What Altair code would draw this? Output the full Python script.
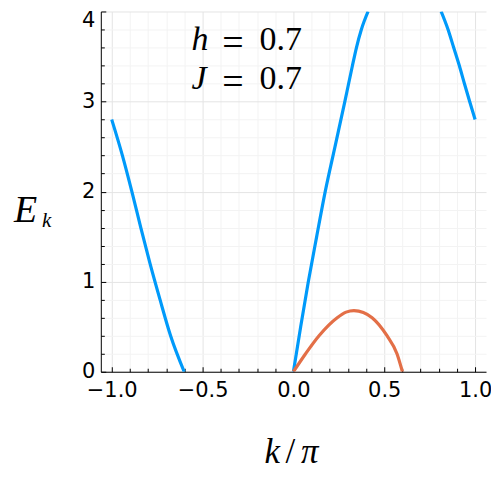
import altair as alt
import pandas as pd

# ---- values ----
BLUE_LEFT_X = [-1.0, -0.941, -0.889, -0.840, -0.789, -0.734, -0.676, -0.601]
BLUE_LEFT_Y = [2.8, 2.4, 2.0, 1.6, 1.2, 0.8, 0.4, 0.0]
BLUE_MID_X = [0.0, 0.040, 0.082, 0.128, 0.175, 0.229, 0.283, 0.304, 0.325, 0.347, 0.374, 0.411]
BLUE_MID_Y = [0.0, 0.5, 1.0, 1.5, 2.0, 2.5, 3.0, 3.2, 3.4, 3.6, 3.8, 4.0]
BLUE_RIGHT_X = [0.813, 0.851, 0.882, 0.913, 0.941, 0.970, 1.0]
BLUE_RIGHT_Y = [4.0, 3.8, 3.6, 3.4, 3.2, 3.0, 2.8]
ORANGE_X = [0.0, 0.067, 0.141, 0.241, 0.290, 0.333, 0.385, 0.433, 0.515, 0.570, 0.600]
ORANGE_Y = [0.0, 0.2, 0.4, 0.6, 0.662, 0.679, 0.658, 0.6, 0.4, 0.2, 0.0]

H_VAL = 0.7
J_VAL = 0.7

X_TICKS = [-1.0, -0.9, -0.8, -0.7, -0.6, -0.5, -0.4, -0.3, -0.2, -0.1, 0.0,
           0.1, 0.2, 0.3, 0.4, 0.5, 0.6, 0.7, 0.8, 0.9, 1.0]
Y_TICKS = [0.0, 0.2, 0.4, 0.6, 0.8, 1.0, 1.2, 1.4, 1.6, 1.8, 2.0,
           2.2, 2.4, 2.6, 2.8, 3.0, 3.2, 3.4, 3.6, 3.8, 4.0]
X_DOMAIN = [-1.06, 1.06]
Y_DOMAIN = [0, 4]

rows = []
for seg, xs_, ys_ in [("bl", BLUE_LEFT_X, BLUE_LEFT_Y),
                      ("bm", BLUE_MID_X, BLUE_MID_Y),
                      ("br", BLUE_RIGHT_X, BLUE_RIGHT_Y)]:
    for a, b in zip(xs_, ys_):
        rows.append({"x": a, "y": b, "series": "blue", "seg": seg})
for a, b in zip(ORANGE_X, ORANGE_Y):
    rows.append({"x": a, "y": b, "series": "orange", "seg": "o"})
df = pd.DataFrame(rows)

W, H = 386, 361
XMAJ = "abs(datum.value*2 - round(datum.value*2)) < 1e-6"
YMAJ = "abs(datum.value - round(datum.value)) < 1e-6"
YTOP = "datum.value > 3.99"

xs = alt.Scale(domain=X_DOMAIN, nice=False, zero=False)
ys = alt.Scale(domain=Y_DOMAIN, nice=False, zero=False)

main_x = alt.Axis(values=X_TICKS, labelExpr=f"({XMAJ}) ? format(datum.value, '.1f') : ''",
                  tickSize=0, grid=True,
                  gridColor={"condition": {"test": XMAJ, "value": "#e4e4e4"}, "value": "#f3f3f3"},
                  gridWidth=1, domainColor="black", domainWidth=1,
                  labelFont="DejaVu Sans", labelFontSize=21, labelColor="black",
                  labelPadding=8, labelOverlap=False, labelFlush=False, title=None)
main_y = alt.Axis(values=Y_TICKS, labelExpr=f"({YMAJ}) ? format(datum.value, '.0f') : ''",
                  tickSize=0, grid=True,
                  gridColor={"condition": {"test": YMAJ, "value": "#e4e4e4"}, "value": "#f3f3f3"},
                  gridWidth=1, domainColor="black", domainWidth=1,
                  labelFont="DejaVu Sans", labelFontSize=21, labelColor="black",
                  labelBaseline={"condition": {"test": YTOP, "value": "top"}, "value": "middle"},
                  labelOffset={"condition": {"test": YTOP, "value": -2}, "value": 0},
                  labelPadding=6, labelOverlap=False, labelFlush=False, title=None)
tick_x = alt.Axis(orient="top", offset=-H, values=X_TICKS, labels=False, domain=False, grid=False,
                  tickSize={"condition": {"test": XMAJ, "value": 5}, "value": 3.5},
                  tickColor="black", tickWidth=1, title=None)
tick_y = alt.Axis(orient="right", offset=-W, values=Y_TICKS, labels=False, domain=False, grid=False,
                  tickSize={"condition": {"test": YMAJ, "value": 5}, "value": 3.5},
                  tickColor="black", tickWidth=1, title=None)

blue = alt.Chart(df).transform_filter(alt.datum.series == "blue").mark_line(
    color="#009AFA", strokeWidth=3.2, clip=True, interpolate="monotone"
).encode(
    x=alt.X("x:Q", scale=xs, axis=main_x),
    y=alt.Y("y:Q", scale=ys, axis=main_y),
    detail="seg:N",
)
orange = alt.Chart(df).transform_filter(alt.datum.series == "orange").mark_line(
    color="#E36F47", strokeWidth=3.2, clip=True, interpolate="monotone"
).encode(
    x=alt.X("x:Q", scale=xs, axis=tick_x),
    y=alt.Y("y:Q", scale=ys, axis=tick_y),
)

one = pd.DataFrame({"t": [0]})


def txt(s, px, py, size, italic=False, align="left"):
    kw = dict(text=s, font="Liberation Serif", fontSize=size, align=align,
              baseline="alphabetic", color="black")
    if italic:
        kw["fontStyle"] = "italic"
    return alt.Chart(one).mark_text(**kw).encode(x=alt.value(px), y=alt.value(py))


texts = [
    # y title E_k
    txt("E", -87, 210.7, 38, italic=True),
    txt("k", -59, 215.7, 21, italic=True),
    # x title k/π
    txt("k", 164, 452, 35, italic=True),
    txt("/", 185, 452, 35),
    txt("π", 200.7, 452, 35, italic=True),
    # annotation
    txt("h", 91, 39, 34, italic=True),
    txt("=", 132.5, 44, 38, align="center"),
    txt(f"{H_VAL}", 159, 39, 34),
    txt("J", 91, 77.3, 34, italic=True),
    txt("=", 132.5, 82.3, 38, align="center"),
    txt(f"{J_VAL}", 159, 77.3, 34),
]

chart = alt.layer(blue, orange, *texts).resolve_axis(
    x="independent", y="independent"
).properties(
    width=W, height=H,
    autosize=alt.AutoSizeParams(type="none"),
    padding={"left": 93, "top": 3, "right": 5, "bottom": 110},
).configure_view(stroke=None)

chart.save("out.html", embed_options={"renderer": "svg", "actions": False})
